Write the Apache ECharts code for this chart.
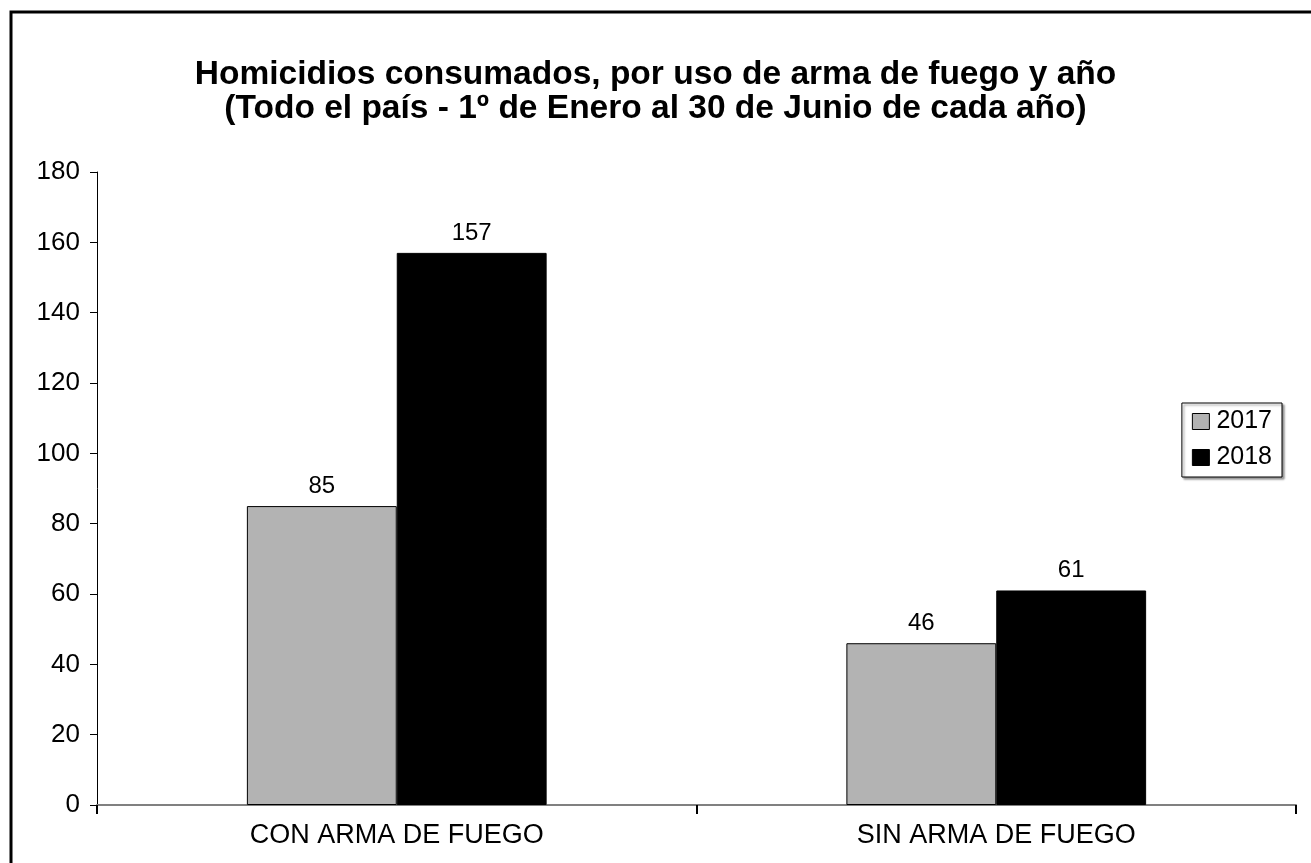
<!DOCTYPE html>
<html><head><meta charset="utf-8">
<script src="https://cdn.jsdelivr.net/npm/echarts@6/dist/echarts.min.js"></script>
<style>html,body{margin:0;padding:0;background:#fff}#c{width:1311px;height:863px}</style>
</head><body><div id="c"></div>
<script>
var categories = ['CON ARMA DE FUEGO', 'SIN ARMA DE FUEGO'];
var years = ['2017', '2018'];
var values2017 = [85, 46];
var values2018 = [157, 61];
var yTicks = [0, 20, 40, 60, 80, 100, 120, 140, 160, 180];

var chart = echarts.init(document.getElementById('c'));
var font = 'Liberation Sans, Arial, sans-serif';
chart.setOption({
  animation: false,
  backgroundColor: '#fff',
  graphic: [{
    type: 'rect', z: 100, silent: true,
    shape: {x: 11, y: 12, width: 1400, height: 1000},
    style: {fill: 'none', stroke: '#000', lineWidth: 3}
  }],
  title: {
    text: 'Homicidios consumados, por uso de arma de fuego y año\n(Todo el país - 1º de Enero al 30 de Junio de cada año)',
    left: 'center', top: 53,
    textStyle: {fontFamily: font, fontSize: 33.5, fontWeight: 'bold', color: '#000', lineHeight: 34}
  },
  legend: {
    orient: 'vertical', right: 29, top: 403,
    data: years,
    itemWidth: 17, itemHeight: 16, itemGap: 11,
    padding: [6, 10, 7, 10],
    borderColor: '#000', borderWidth: 1,
    shadowColor: 'rgba(0,0,0,0.4)', shadowOffsetX: 2, shadowOffsetY: 2, shadowBlur: 2,
    backgroundColor: '#fff',
    icon: 'rect',
    itemStyle: {borderColor: '#000', borderWidth: 1},
    textStyle: {fontFamily: font, fontSize: 25, color: '#000', padding: [0,0,0,2]}
  },
  grid: {left: 97, right: 15, top: 172, bottom: 58, containLabel: false},
  xAxis: {
    type: 'category', data: categories,
    axisLine: {lineStyle: {color: '#808080', width: 2}},
    axisTick: {show: true, inside: false, length: 9, lineStyle: {color: '#000', width: 2}},
    axisLabel: {fontFamily: font, fontSize: 27, color: '#000', margin: 17}
  },
  yAxis: {
    type: 'value', min: 0, max: 180, interval: 20,
    axisLine: {show: true, lineStyle: {color: '#000', width: 1}},
    axisTick: {show: true, length: 7, lineStyle: {color: '#000'}},
    splitLine: {show: false},
    axisLabel: {fontFamily: font, fontSize: 26, color: '#000', margin: 17,
      formatter: function (v) { return yTicks.indexOf(v) >= 0 ? String(v) : ''; }}
  },
  series: [
    {name: years[0], type: 'bar', data: values2017, barGap: '0%', barCategoryGap: '50%',
     itemStyle: {color: '#b3b3b3', borderColor: '#000', borderWidth: 1},
     label: {show: true, position: 'top', distance: 8, fontFamily: font, fontSize: 24, color: '#000'}},
    {name: years[1], type: 'bar', data: values2018, barGap: '0%', barCategoryGap: '50%',
     itemStyle: {color: '#000', borderColor: '#000', borderWidth: 1},
     label: {show: true, position: 'top', distance: 8, fontFamily: font, fontSize: 24, color: '#000'}}
  ]
});
</script></body></html>
